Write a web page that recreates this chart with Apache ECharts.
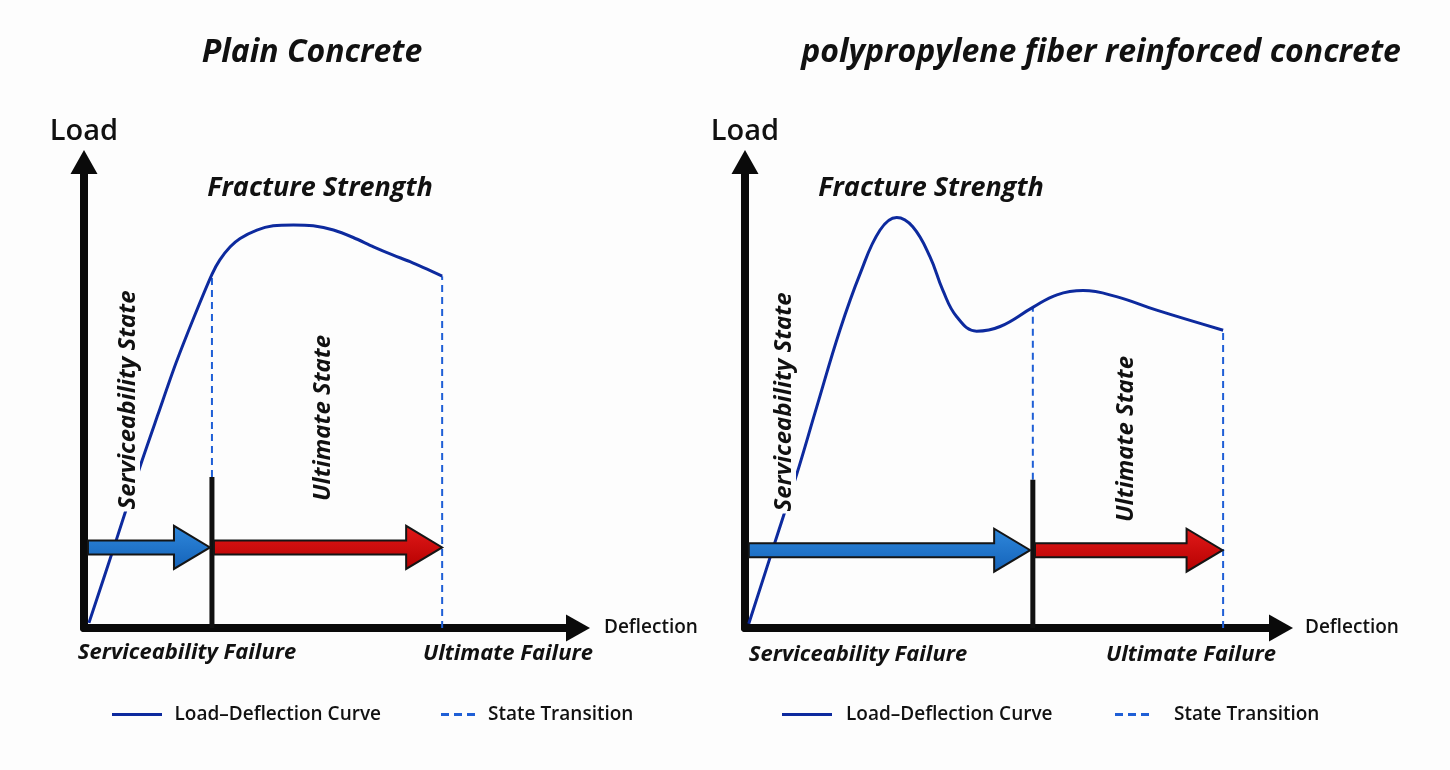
<!DOCTYPE html>
<html>
<head>
<meta charset="utf-8">
<script src="https://cdn.jsdelivr.net/npm/echarts@6/dist/echarts.min.js"></script>
<style>
html,body{margin:0;padding:0;background:#fdfdfd;}
#chart{width:1450px;height:770px;}
</style>
</head>
<body>
<div id="chart"></div>
<script>
// ---------- data ----------
const panelTitles = ['Plain Concrete', 'polypropylene fiber reinforced concrete'];
const axisNames = { x: 'Deflection', y: 'Load' };
const seriesNames = { curve: 'Load–Deflection Curve', transition: 'State Transition' };

// Plain concrete load-deflection curve (deflection, load) in arbitrary units 0..10
const plainDeflection = [0.10, 0.63, 1.13, 1.50, 1.86, 2.23, 2.59, 2.75, 2.96, 3.16, 3.50, 3.83, 4.24, 4.64, 5.05, 5.45, 5.86, 6.26, 6.60, 7.25];
const plainLoad       = [0.11, 1.81, 3.45, 4.59, 5.68, 6.68, 7.59, 7.90, 8.18, 8.36, 8.54, 8.63, 8.65, 8.63, 8.54, 8.38, 8.18, 8.00, 7.86, 7.55];
// Fiber reinforced concrete curve
const fiberDeflection = [0.07, 0.52, 0.96, 1.34, 1.77, 2.15, 2.52, 2.83, 3.13, 3.45, 3.69, 3.95, 4.32, 4.76, 5.37, 5.82, 6.31, 6.93, 7.68, 8.92];
const fiberLoad       = [0.09, 1.70, 3.28, 4.75, 6.39, 7.61, 8.54, 8.81, 8.61, 7.97, 7.25, 6.68, 6.37, 6.47, 6.88, 7.15, 7.24, 7.11, 6.82, 6.39];

// State boundaries: [serviceability failure deflection, ultimate failure deflection]
const plainLimits = [2.59, 7.25];
const fiberLimits = [5.37, 8.92];
// Height of the solid serviceability-failure marker line
const plainMarkerTop = 3.24;
const fiberMarkerTop = 3.18;
// State arrows: [start deflection, end deflection, level]
const plainArrows = [[0.08, 2.55, 1.73], [2.63, 7.25, 1.73]];
const fiberArrows = [[0.07, 5.32, 1.67], [5.41, 8.91, 1.67]];

const stateLabels = ['Serviceability State', 'Ultimate State'];
const failureLabels = ['Serviceability Failure', 'Ultimate Failure'];
const peakLabel = 'Fracture Strength';

// ---------- helpers ----------
const FONT = '"Open Sans", "Noto Sans", sans-serif';
const CURVE_COLOR = '#0d2a9e';
const DASH_COLOR = '#1f5fd6';
const INK = '#111111';
const BG = '#fdfdfd';

function zip(a, b) { return a.map((v, i) => [v, b[i]]); }
function loadAt(xs, ys, x) {
  for (let i = 0; i < xs.length; i++) if (Math.abs(xs[i] - x) < 1e-6) return ys[i];
  return ys[ys.length - 1];
}

function makeXAxis(i, gap) {
  return {
    type: 'value', gridIndex: i, min: 0, max: 10,
    axisLine: { show: true, onZero: false, symbol: ['none', 'triangle'], symbolSize: [27, 24],
      lineStyle: { color: '#0a0a0a', width: 8, cap: 'round' } },
    axisTick: { show: false }, axisLabel: { show: false }, splitLine: { show: false },
    name: axisNames.x, nameLocation: 'end', nameGap: gap,
    nameTextStyle: { fontFamily: FONT, fontSize: 19, fontWeight: 600, color: INK, align: 'left', verticalAlign: 'middle' }
  };
}
function makeYAxis(i) {
  return {
    type: 'value', gridIndex: i, min: 0, max: 10,
    axisLine: { show: true, onZero: false, symbol: ['none', 'triangle'], symbolSize: [27, 24],
      lineStyle: { color: '#0a0a0a', width: 8, cap: 'round' } },
    axisTick: { show: false }, axisLabel: { show: false }, splitLine: { show: false },
    name: axisNames.y, nameLocation: 'end', nameGap: 30,
    nameTextStyle: { fontFamily: FONT, fontSize: 29, fontWeight: 600, color: INK, align: 'center', verticalAlign: 'middle' }
  };
}

function panelSeries(i, xs, ys, limits, markerTop, arrows, smooth) {
  const sLoad = loadAt(xs, ys, limits[0]);
  const uLoad = loadAt(xs, ys, limits[1]);
  const dash = { color: DASH_COLOR, width: 2, type: [7, 5] };
  return [
    { type: 'line', name: seriesNames.transition, xAxisIndex: i, yAxisIndex: i, symbol: 'none', silent: true,
      data: [[limits[0], markerTop], [limits[0], sLoad]], itemStyle: { color: DASH_COLOR },
      lineStyle: dash, z: 2 },
    { type: 'line', name: seriesNames.transition, xAxisIndex: i, yAxisIndex: i, symbol: 'none', silent: true,
      data: [[limits[1], 0], [limits[1], uLoad]], itemStyle: { color: DASH_COLOR },
      lineStyle: dash, z: 2 },
    { type: 'line', name: 'marker', xAxisIndex: i, yAxisIndex: i, symbol: 'none', silent: true,
      data: [[limits[0], 0], [limits[0], markerTop]], itemStyle: { color: INK },
      lineStyle: { color: INK, width: 5 }, z: 3 },
    { type: 'line', name: seriesNames.curve, xAxisIndex: i, yAxisIndex: i, symbol: 'none', silent: true,
      smooth: smooth, data: zip(xs, ys), itemStyle: { color: CURVE_COLOR },
      lineStyle: { color: CURVE_COLOR, width: 3, join: 'round' }, z: 4 },
    { type: 'custom', name: 'arrows', xAxisIndex: i, yAxisIndex: i, silent: true, z: 5,
      data: arrows.map((a, k) => [a[0], a[2], a[1], k]),
      renderItem: function (params, api) {
        const s = api.coord([api.value(0), api.value(1)]);
        const e = api.coord([api.value(2), api.value(1)]);
        const sh = 7, hh = 21.5, hl = 36;
        const y = s[1];
        const pts = [[s[0], y - sh], [e[0] - hl, y - sh], [e[0] - hl, y - hh], [e[0], y],
                     [e[0] - hl, y + hh], [e[0] - hl, y + sh], [s[0], y + sh]];
        const blue = api.value(3) === 0;
        return {
          type: 'polygon', shape: { points: pts },
          style: {
            fill: new echarts.graphic.LinearGradient(0, 0, 0, 1, blue
              ? [{ offset: 0, color: '#2f88dc' }, { offset: 1, color: '#1462b8' }]
              : [{ offset: 0, color: '#e21a1a' }, { offset: 1, color: '#b50000' }]),
            stroke: '#151515', lineWidth: 2, lineJoin: 'miter'
          }
        };
      }
    }
  ];
}

function txt(x, y, text, size, opts) {
  opts = opts || {};
  const style = {
    text: text, fill: INK, textAlign: 'center', textVerticalAlign: 'middle',
    font: 'italic bold ' + size + 'px ' + FONT
  };
  if (opts.bg) { style.backgroundColor = BG; style.padding = [0, 2]; }
  return { type: 'text', x: x, y: y, z: 50, zlevel: 0, rotation: opts.rot ? Math.PI / 2 : 0, style: style };
}

const SOLID_ICON = 'path://M0,0h50v3h-50z';
const DASH_ICON = 'path://M0,0h8v3h-8z M13,0h8v3h-8z M26,0h8v3h-8z';
function legendItem(name, left, width, icon, pad) {
  return {
    data: [{ name: name, icon: icon }], left: left, top: 700, itemWidth: width, itemHeight: 3,
    selectedMode: false,
    textStyle: { fontFamily: FONT, fontSize: 19, fontWeight: 600, color: INK, padding: [0, 0, 0, pad] }
  };
}

const chart = echarts.init(document.getElementById('chart'), null, { renderer: 'canvas' });

const option = {
  backgroundColor: BG,
  animation: false,
  grid: [
    { left: 84, top: 162, width: 494, height: 466 },
    { left: 745, top: 162, width: 536, height: 466 }
  ],
  xAxis: [makeXAxis(0, 26), makeXAxis(1, 24)],
  yAxis: [makeYAxis(0), makeYAxis(1)],
  legend: [
    legendItem(seriesNames.curve, 107, 51, SOLID_ICON, 7),
    legendItem(seriesNames.transition, 436, 34, DASH_ICON, 8),
    legendItem(seriesNames.curve, 777, 52, SOLID_ICON, 8),
    legendItem(seriesNames.transition, 1110, 34, DASH_ICON, 20)
  ],
  series: [].concat(
    panelSeries(0, plainDeflection, plainLoad, plainLimits, plainMarkerTop, plainArrows, 0.3),
    panelSeries(1, fiberDeflection, fiberLoad, fiberLimits, fiberMarkerTop, fiberArrows, 0.42)
  ),
  graphic: [
    txt(312, 53, panelTitles[0], 32),
    txt(1101, 53, panelTitles[1], 32),
    txt(320, 188, peakLabel, 27),
    txt(931, 188, peakLabel, 27),
    txt(128, 400, stateLabels[0], 24, { rot: true, bg: true }),
    txt(323, 418, stateLabels[1], 24, { rot: true, bg: true }),
    txt(784, 402, stateLabels[0], 24, { rot: true, bg: true }),
    txt(1126, 439, stateLabels[1], 24, { rot: true, bg: true }),
    txt(187, 653, failureLabels[0], 22),
    txt(508, 654, failureLabels[1], 22),
    txt(858, 655, failureLabels[0], 22),
    txt(1191, 655, failureLabels[1], 22)
  ]
};
chart.setOption(option);
</script>
</body>
</html>
